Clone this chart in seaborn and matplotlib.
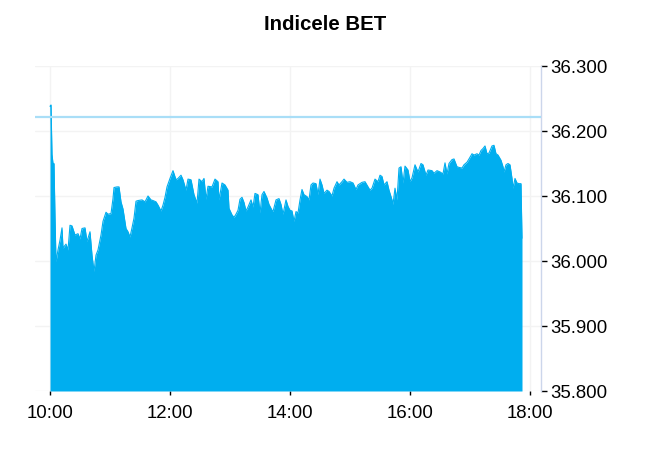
import matplotlib
matplotlib.use('Agg')
import matplotlib.pyplot as plt
import seaborn as sns
import pandas as pd
from matplotlib.ticker import FuncFormatter

# minutes after 10:00 and index level
minutes = [0, 1, 2, 3, 4, 5, 6, 8, 10, 12, 13, 16, 18, 20, 22, 25, 28, 30, 32, 35,
           37, 40, 42, 44, 46, 48, 51, 53, 56, 58, 61, 63, 64, 67, 69, 71, 73, 76, 78, 80,
           82, 84, 86, 88, 92, 95, 98, 101, 103, 106, 108, 111, 113, 115, 117, 120, 123, 126, 128, 131,
           133, 136, 138, 141, 144, 147, 149, 152, 154, 156, 158, 162, 165, 168, 169, 172, 175, 178, 179, 182,
           184, 186, 188, 190, 192, 194, 196, 198, 201, 203, 205, 208, 210, 212, 214, 217, 219, 222, 223, 226,
           229, 231, 233, 236, 238, 240, 242, 244, 246, 248, 250, 252, 254, 257, 259, 261, 263, 266, 268, 270,
           272, 274, 277, 279, 282, 284, 287, 289, 292, 294, 297, 300, 303, 306, 308, 312, 315, 318, 320, 322,
           325, 328, 330, 332, 334, 337, 339, 342, 343, 345, 347, 349, 351, 353, 355, 358, 360, 362, 365, 368,
           371, 373, 376, 378, 382, 384, 387, 390, 393, 395, 397, 399, 402, 404, 407, 409, 412, 414, 417, 419,
           422, 424, 427, 429, 431, 433, 435, 437, 439, 442, 444, 446, 448, 451, 453, 454, 456, 458, 460, 462,
           463, 465, 467, 469, 471, 472]
values = [36238, 36240, 36164, 36150, 36150, 36068, 35999, 36017, 36032, 36051, 36020, 36026, 36017, 36055, 36054, 36040, 36042, 36034, 36050, 36051,
          36030, 36045, 36009, 35984, 36009, 36017, 36040, 36061, 36075, 36072, 36073, 36096, 36113, 36114, 36114, 36091, 36080, 36050, 36045, 36037,
          36051, 36066, 36092, 36093, 36094, 36091, 36100, 36094, 36093, 36091, 36086, 36077, 36086, 36098, 36114, 36127, 36139, 36125, 36127, 36132,
          36125, 36109, 36126, 36125, 36102, 36089, 36126, 36122, 36127, 36095, 36115, 36114, 36126, 36122, 36094, 36120, 36117, 36109, 36081, 36071,
          36067, 36072, 36078, 36095, 36098, 36090, 36077, 36083, 36094, 36083, 36104, 36102, 36074, 36102, 36107, 36097, 36087, 36078, 36076, 36094,
          36096, 36087, 36072, 36094, 36084, 36078, 36077, 36061, 36076, 36074, 36094, 36110, 36102, 36099, 36094, 36117, 36120, 36119, 36102, 36126,
          36117, 36104, 36109, 36107, 36100, 36112, 36122, 36117, 36122, 36126, 36121, 36122, 36120, 36110, 36117, 36121, 36122, 36114, 36109, 36112,
          36126, 36122, 36132, 36130, 36117, 36122, 36109, 36094, 36087, 36112, 36094, 36143, 36145, 36120, 36146, 36140, 36122, 36128, 36148, 36137,
          36150, 36148, 36132, 36140, 36139, 36135, 36139, 36137, 36134, 36151, 36134, 36150, 36156, 36157, 36145, 36144, 36143, 36148, 36152, 36157,
          36165, 36163, 36165, 36163, 36170, 36173, 36177, 36165, 36166, 36177, 36178, 36165, 36163, 36155, 36145, 36137, 36148, 36150, 36148, 36127,
          36112, 36127, 36120, 36119, 36119, 36035]
prev_close = 36222
y_ticks = [35800, 35900, 36000, 36100, 36200, 36300]
x_ticks = [0, 120, 240, 360, 480]
x_labels = ['10:00', '12:00', '14:00', '16:00', '18:00']

df = pd.DataFrame({'minute': minutes, 'value': values})

sns.set_style('white')
plt.rcParams['font.family'] = ['Liberation Sans', 'DejaVu Sans']

fill_col = '#00aeef'
fig = plt.figure(figsize=(6.5, 4.5), dpi=100)
ax = fig.add_axes([35/650, 1-391/450, 506/650, 325/450])

ax.fill_between(df['minute'], y_ticks[0], df['value'], color=fill_col, lw=0, zorder=2)
sns.lineplot(data=df, x='minute', y='value', color=fill_col, lw=0.8, ax=ax, zorder=3)
ax.axhline(prev_close, color='#a9def7', lw=1.6, zorder=4)

ax.set_xlim(-15, 491)
ax.set_ylim(y_ticks[0], y_ticks[-1])
ax.set_xticks(x_ticks)
ax.set_xticklabels(x_labels)
ax.set_yticks(y_ticks)
ax.yaxis.set_major_formatter(FuncFormatter(lambda v, p: f'{v:,.0f}'.replace(',', '.')))
ax.yaxis.tick_right()
ax.set_xlabel('')
ax.set_ylabel('')

ax.grid(True, color='#f3f3f3', lw=1, zorder=0)
ax.set_axisbelow(True)
for s in ['left', 'top', 'bottom']:
    ax.spines[s].set_visible(False)
ax.spines['right'].set_color('#ccd6eb')
ax.spines['right'].set_linewidth(1)

ax.tick_params(axis='y', which='both', right=True, left=False, length=4.5, width=1,
               color='black', pad=2, labelsize=13.4, labelcolor='black')
ax.tick_params(axis='x', which='both', bottom=True, length=3, width=1,
               color='black', pad=7, labelsize=13.4, labelcolor='black')

fig.text(0.5, 1-25/450, 'Indicele BET', ha='center', va='center',
         fontsize=14.7, fontweight='bold', color='black')

fig.savefig('out.png', dpi=100)
